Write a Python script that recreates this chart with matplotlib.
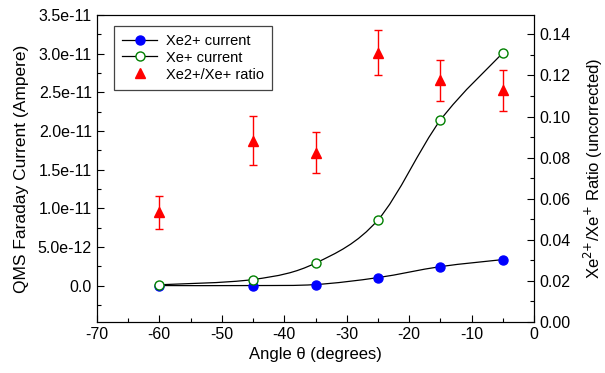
import numpy as np
import matplotlib
matplotlib.use("Agg")
from matplotlib import pyplot as plt
from matplotlib.path import Path
from matplotlib.patches import PathPatch
from matplotlib.lines import Line2D
from matplotlib.ticker import MultipleLocator, AutoMinorLocator

plt.rcParams['font.family'] = ['Liberation Sans', 'DejaVu Sans']
plt.rcParams['axes.unicode_minus'] = False

angle = [-60, -45, -35, -25, -15, -5]
xe2_current = [0.0, 0.0, 0.13e-12, 1.03e-12, 2.45e-12, 3.36e-12]
xe1_current = [0.1e-12, 0.78e-12, 2.9e-12, 8.5e-12, 21.4e-12, 30.1e-12]
ratio = [0.0533, 0.0883, 0.0823, 0.131, 0.1176, 0.1127]
ratio_err = [0.008, 0.012, 0.010, 0.011, 0.010, 0.010]


def smooth_path(x, y):
    # catmull-rom style bezier through the data points
    x = np.asarray(x, float)
    y = np.asarray(y, float)
    verts = [(x[0], y[0])]
    codes = [Path.MOVETO]
    n = len(x)
    for i in range(n - 1):
        x0, y0 = (x[i - 1], y[i - 1]) if i > 0 else (x[i], y[i])
        x3, y3 = (x[i + 2], y[i + 2]) if i + 2 < n else (x[i + 1], y[i + 1])
        c1 = (x[i] + (x[i + 1] - x0) / 6, y[i] + (y[i + 1] - y0) / 6)
        c2 = (x[i + 1] - (x3 - x[i]) / 6, y[i + 1] - (y3 - y[i]) / 6)
        verts += [c1, c2, (x[i + 1], y[i + 1])]
        codes += [Path.CURVE4] * 3
    return Path(verts, codes)


fig = plt.figure(figsize=(6.05, 3.73), dpi=100)
ax = fig.add_axes([0.160, 0.137, 0.723, 0.823])
ax2 = ax.twinx()

ax.add_patch(PathPatch(smooth_path(angle, xe2_current), fill=False, color='black', lw=0.9))
ax.add_patch(PathPatch(smooth_path(angle, xe1_current), fill=False, color='black', lw=0.9))
ax.plot(angle, xe2_current, 'o', ms=6.5, color='blue', zorder=3)
ax.plot(angle, xe1_current, 'o', ms=6.5, mfc='white', mec='green', mew=1.0, zorder=3)

ax2.errorbar(angle, ratio, yerr=ratio_err, fmt='^', ms=7, color='red',
             ecolor='red', elinewidth=1.0, capsize=3, capthick=1.0)

ax.set_xlim(-70, 0)
ax.set_ylim(-4.7e-12, 3.5e-11)
ax2.set_ylim(0, 0.1495)

ax.xaxis.set_major_locator(MultipleLocator(10))
ax.xaxis.set_minor_locator(MultipleLocator(5))
ax.yaxis.set_major_locator(MultipleLocator(5e-12))
ax.yaxis.set_minor_locator(AutoMinorLocator(2))
ax2.yaxis.set_major_locator(MultipleLocator(0.02))
ax2.yaxis.set_minor_locator(AutoMinorLocator(2))

ax.yaxis.set_major_formatter(plt.FuncFormatter(
    lambda v, p: '0.0' if abs(v) < 1e-20 else ('%.1e' % v).replace('e-0', 'e-')))
ax2.yaxis.set_major_formatter(plt.FuncFormatter(lambda v, p: '%.2f' % v))

for a in (ax, ax2):
    a.tick_params(which='both', direction='in', labelsize=11.5, top=False)
    a.tick_params(which='major', length=5, width=0.8)
    a.tick_params(which='minor', length=3, width=0.8)
ax.tick_params(axis='y', right=False)

ax.set_xlabel('Angle \u03b8 (degrees)', fontsize=12)
ax.set_ylabel('QMS Faraday Current (Ampere)', fontsize=12.5, labelpad=6)
ax2.set_ylabel('Xe$^{2{+}}$/Xe$^{{+}}$ Ratio (uncorrected)', fontsize=12, labelpad=8)

handles = [
    Line2D([], [], color='black', lw=0.9, marker='o', ms=6.5, mfc='blue', mec='blue'),
    Line2D([], [], color='black', lw=0.9, marker='o', ms=6.5, mfc='white', mec='green'),
    Line2D([], [], color='red', lw=0, marker='^', ms=7),
]
leg = ax.legend(handles, ['Xe2+ current', 'Xe+ current', 'Xe2+/Xe+ ratio'],
                loc='upper left', bbox_to_anchor=(0.04, 0.965), fontsize=10.5,
                fancybox=False, framealpha=1, edgecolor='#444444',
                handlelength=2.4, labelspacing=0.2, borderpad=0.55, handletextpad=0.6,
                borderaxespad=0)
leg.get_frame().set_linewidth(0.9)

fig.savefig('out.png', dpi=100)
